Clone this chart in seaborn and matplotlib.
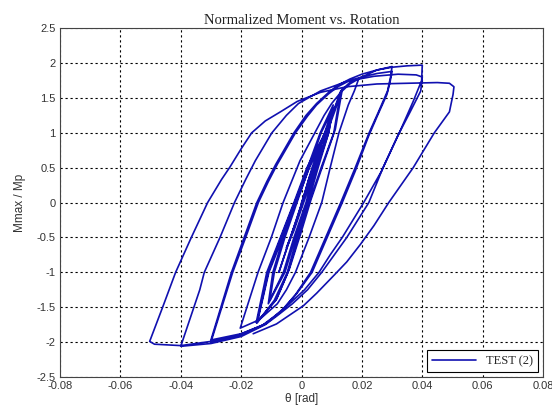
import numpy as np
import pandas as pd
import matplotlib
matplotlib.use("Agg")
import matplotlib.pyplot as plt
import seaborn as sns

theta_small = [0.0, 0.0025, 0.005, 0.0015, -0.0025, -0.005, -0.0015, 0.0025, 0.005,
               0.0075, 0.0035, 0.0005, -0.004, -0.0075, -0.0045, -0.0005, 0.004, 0.0075]
moment_small = [0.0, 0.3, 0.6, 0.1, -0.4, -0.65, -0.25, 0.35, 0.62,
                0.98, 0.5, 0.05, -0.55, -1.0, -0.6, -0.1, 0.45, 0.98]

theta_010 = [0.01, 0.0085, 0.0045, 0.0015, -0.0025, -0.006, -0.0105,
             -0.009, -0.0055, -0.0015, 0.0025, 0.0065, 0.0105,
             0.009, 0.005, 0.002, -0.002, -0.0055, -0.011,
             -0.0095, -0.006, -0.002, 0.002, 0.0062, 0.0105]
moment_010 = [1.3, 1.0, 0.5, 0.0, -0.5, -1.0, -1.4,
              -1.0, -0.5, 0.0, 0.5, 1.0, 1.35,
              1.0, 0.5, 0.0, -0.5, -1.0, -1.45,
              -1.0, -0.5, 0.0, 0.5, 1.0, 1.4]

theta_015 = [0.009, 0.0055, 0.0022, -0.0015, -0.0047, -0.009, -0.0148,
             -0.011, -0.0068, -0.0023, 0.0022, 0.008, 0.0105, 0.013,
             0.0107, 0.0065, 0.0025, -0.001, -0.0045, -0.0085, -0.015,
             -0.0115, -0.007, -0.0025, 0.0018, 0.0078, 0.011, 0.0135,
             0.0112, 0.0072, 0.0032, -0.0003, -0.004, -0.0082, -0.0146,
             -0.0108, -0.0062, -0.0018, 0.0026, 0.0084, 0.0112, 0.0132]
moment_015 = [1.0, 0.5, 0.0, -0.5, -1.0, -1.4, -1.73,
              -1.0, -0.5, 0.0, 0.5, 1.0, 1.3, 1.6,
              1.0, 0.5, 0.0, -0.5, -1.0, -1.4, -1.72,
              -1.0, -0.5, 0.0, 0.5, 1.0, 1.35, 1.62,
              1.05, 0.55, 0.05, -0.45, -0.95, -1.38, -1.71,
              -1.0, -0.5, 0.0, 0.5, 1.0, 1.33, 1.61]

theta_020 = [0.016, 0.019, 0.0175, 0.0155, 0.0124, 0.0095, 0.0067, 0.0025, -0.002, -0.005, -0.008,
             -0.014, -0.0203,
             -0.0144, -0.01, -0.0061, -0.0005, 0.0044, 0.0075, 0.01, 0.013, 0.016, 0.02]
moment_020 = [1.72, 1.78, 1.6, 1.4, 1.0, 0.5, 0.0, -0.5, -1.0, -1.25, -1.45,
              -1.68, -1.8,
              -1.0, -0.5, 0.0, 0.6, 1.0, 1.25, 1.42, 1.58, 1.7, 1.8]

theta_030 = [0.025, 0.03, 0.0295, 0.0285, 0.0255, 0.0224, 0.0178, 0.013, 0.008, 0.003, -0.002, -0.007,
             -0.012, -0.02, -0.03,
             -0.0228, -0.0185, -0.0143, -0.011, -0.008, -0.002, 0.002, 0.005, 0.009, 0.012, 0.016,
             0.02, 0.025, 0.03,
             0.0293, 0.0283, 0.0252, 0.0222, 0.0178, 0.0135, 0.0085, 0.0035, -0.0015, -0.0065,
             -0.012, -0.02, -0.03,
             -0.0232, -0.019, -0.0148, -0.0115, -0.0085, -0.0025, 0.0015, 0.005, 0.009, 0.012,
             0.016, 0.02, 0.025, 0.03, 0.035, 0.04]
moment_030 = [1.9, 1.95, 1.8, 1.6, 1.3, 1.0, 0.5, 0.0, -0.5, -1.0, -1.32, -1.57,
              -1.74, -1.9, -2.0,
              -1.0, -0.5, 0.0, 0.3, 0.55, 1.0, 1.24, 1.4, 1.56, 1.66, 1.75,
              1.8, 1.85, 1.88,
              1.72, 1.55, 1.25, 0.95, 0.45, 0.0, -0.5, -1.0, -1.3, -1.55,
              -1.74, -1.88, -1.97,
              -1.0, -0.5, 0.0, 0.3, 0.55, 1.0, 1.25, 1.42, 1.58, 1.68,
              1.77, 1.84, 1.9, 1.94, 1.96, 1.97]

theta_040 = [0.0398, 0.037, 0.0324, 0.027, 0.0223, 0.015, 0.0105, 0.0067, 0.002, -0.003, -0.008,
             -0.012, -0.02, -0.03, -0.04,
             -0.0337, -0.0322, -0.027, -0.0222, -0.0185, -0.0153, -0.0098, -0.005, -0.001, 0.0063,
             0.0152, 0.024, 0.032, 0.038, 0.04,
             0.0395, 0.036, 0.0318, 0.0265, 0.0206, 0.0135, 0.0095, 0.0058, 0.001, -0.004, -0.009,
             -0.013, -0.022, -0.03, -0.04, -0.0487, -0.0503]
moment_040 = [1.75, 1.45, 1.0, 0.5, 0.0, -0.5, -0.77, -1.0, -1.25, -1.45, -1.62,
              -1.75, -1.92, -2.02, -2.06,
              -1.25, -1.0, -0.5, 0.0, 0.33, 0.6, 1.0, 1.25, 1.42, 1.6,
              1.74, 1.81, 1.84, 1.83, 1.8,
              1.6, 1.3, 0.95, 0.45, 0.0, -0.5, -0.75, -1.0, -1.25, -1.45, -1.63,
              -1.76, -1.92, -1.99, -2.05, -2.03, -1.99]

theta_050 = [-0.046, -0.0417, -0.0365, -0.0311, -0.0265, -0.0237, -0.02, -0.0165, -0.012, -0.007,
             -0.0014, 0.0063, 0.015, 0.025, 0.035, 0.045, 0.049, 0.0505,
             0.0502, 0.049, 0.044, 0.037, 0.0289, 0.024, 0.0195, 0.015, 0.0106, 0.005, 0.0006,
             -0.0083, -0.016]
moment_050 = [-1.5, -1.0, -0.5, 0.0, 0.33, 0.51, 0.77, 1.0, 1.17, 1.3,
              1.45, 1.58, 1.66, 1.7, 1.71, 1.72, 1.71, 1.66,
              1.55, 1.3, 1.0, 0.5, 0.0, -0.33, -0.6, -0.85, -1.05, -1.3, -1.48,
              -1.74, -1.88]

x_ticks = [-0.08, -0.06, -0.04, -0.02, 0, 0.02, 0.04, 0.06, 0.08]
y_ticks = [-2.5, -2, -1.5, -1, -0.5, 0, 0.5, 1, 1.5, 2, 2.5]
x_tick_labels = ["-0.08", "-0.06", "-0.04", "-0.02", "0", "0.02", "0.04", "0.06", "0.08"]
y_tick_labels = ["-2.5", "-2", "-1.5", "-1", "-0.5", "0", "0.5", "1", "1.5", "2", "2.5"]

sns.set_theme(style="white")
plt.rcParams['font.family'] = ['Liberation Sans', 'DejaVu Sans']

theta = theta_small + theta_010 + theta_015 + theta_020 + theta_030 + theta_040 + theta_050
moment = moment_small + moment_010 + moment_015 + moment_020 + moment_030 + moment_040 + moment_050
df = pd.DataFrame({"theta": theta, "moment": moment, "label": "TEST (2)"})

fig = plt.figure(figsize=(5.52, 4.08), dpi=100)
ax = fig.add_axes([0.1087, 0.076, 0.875, 0.855])

sns.lineplot(data=df, x="theta", y="moment", hue="label", palette=["#1010b0"],
             sort=False, estimator=None, linewidth=1.2, ax=ax)

ax.set_xlim(-0.08, 0.08)
ax.set_ylim(-2.5, 2.5)
ax.set_xticks(x_ticks)
ax.set_xticklabels(x_tick_labels)
ax.set_yticks(y_ticks)
ax.set_yticklabels(y_tick_labels)
ax.tick_params(direction="in", length=4, labelsize=8, colors="#333333", pad=3)
ax.grid(True, color="black", linestyle=(0, (2, 2.5)), linewidth=0.8)
for sp in ax.spines.values():
    sp.set_color("#444444")
    sp.set_linewidth(0.8)

ax.set_title("Normalized Moment vs. Rotation", family="Liberation Serif", fontsize=10.5,
             color="#222222", pad=3)
ax.set_xlabel("\u03b8 [rad]", fontsize=8.5, color="#333333", labelpad=1)
ax.set_ylabel("Mmax / Mp", fontsize=8.5, color="#333333", labelpad=8)

leg = ax.legend(loc="lower right", fancybox=False, edgecolor="black", framealpha=1,
                prop={"family": "Liberation Serif", "size": 9}, borderaxespad=0.4,
                handlelength=3.5)
leg.get_frame().set_linewidth(0.8)

plt.savefig("out.png", dpi=100)
